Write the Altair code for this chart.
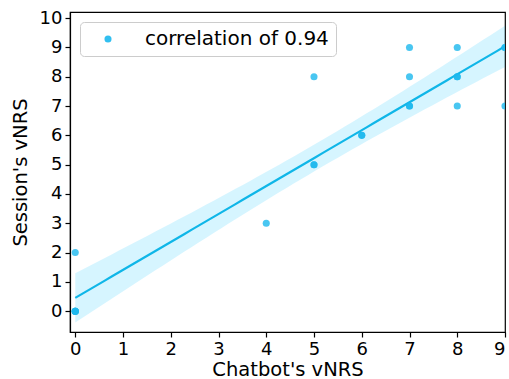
import altair as alt
import numpy as np
import pandas as pd

# Data (duplicates appear as darker dots)
chatbot = [0, 0, 0, 0, 0, 0, 4, 5, 5, 5, 6, 6, 7, 7, 7, 7, 8, 8, 8, 8, 9, 9, 9]
session = [0, 0, 0, 0, 0, 2, 3, 5, 5, 8, 6, 6, 7, 7, 8, 9, 7, 8, 8, 9, 7, 9, 9]
legend_label = "correlation of 0.94"
x_ticks = list(range(0, 10))
y_ticks = list(range(0, 11))

COLOR = "#1cb8ee"
FONT = "DejaVu Sans"

df = pd.DataFrame({"x": chatbot, "y": session, "label": legend_label})

# Linear fit and 95% confidence band computed from the data
x = np.array(chatbot, float)
y = np.array(session, float)
n = len(x)
mx, my = x.mean(), y.mean()
sxx = ((x - mx) ** 2).sum()
slope = ((x - mx) * (y - my)).sum() / sxx
inter = my - slope * mx
resid = y - (inter + slope * x)
s = np.sqrt((resid ** 2).sum() / (n - 2))
t = 2.080
grid = np.linspace(0, 9, 60)
fit = inter + slope * grid
half = t * s * np.sqrt(1.0 / n + (grid - mx) ** 2 / sxx)
band = pd.DataFrame({"x": grid, "fit": fit, "lo": fit - half, "hi": fit + half})

xscale = alt.Scale(domain=[-0.11, 9.0], nice=False, zero=False)
yscale = alt.Scale(domain=[-0.71, 10.21], nice=False, zero=False)


def xax():
    return alt.Axis(values=x_ticks, title="Chatbot's vNRS", grid=False, format="d",
                    labelOverlap=False, titleY=43, titleBaseline="alphabetic",
                    titleFontSize=19.5)


def yax():
    return alt.Axis(values=y_ticks, title="Session's vNRS", grid=False, format="d",
                    labelOverlap=False, titleX=-50, titleBaseline="middle",
                    titleFontSize=19.5)


area = alt.Chart(band).mark_area(color="#00bfff", opacity=0.16, clip=True).encode(
    x=alt.X("x:Q", scale=xscale, axis=xax()),
    y=alt.Y("lo:Q", scale=yscale, axis=yax()),
    y2="hi:Q",
)

line = alt.Chart(band).mark_line(color="#0fb6e8", strokeWidth=2.2, clip=True).encode(
    x=alt.X("x:Q", scale=xscale, axis=xax()),
    y=alt.Y("fit:Q", scale=yscale, axis=yax()),
)

points = alt.Chart(df).mark_circle(size=50, opacity=0.8, clip=True).encode(
    x=alt.X("x:Q", scale=xscale, axis=xax()),
    y=alt.Y("y:Q", scale=yscale, axis=yax()),
    color=alt.Color(
        "label:N",
        scale=alt.Scale(range=[COLOR]),
        legend=alt.Legend(
            title=None,
            orient="none",
            legendX=10,
            legendY=10,
            padding=7,
            symbolOffset=11,
            labelOffset=27,
            labelFontSize=20,
            labelFont=FONT,
            labelColor="black",
            symbolType="circle",
            symbolSize=50,
            symbolOpacity=0.9,
            strokeColor="#cccccc",
            fillColor="white",
            cornerRadius=4,
            labelLimit=400,
        ),
    ),
)

chart = (
    alt.layer(area, line, points)
    .properties(
        width=435,
        height=320,
        padding={"left": 70, "top": 12, "right": 4, "bottom": 47},
        autosize=alt.AutoSizeParams(type="none"),
        background="white",
    )
    .configure_view(stroke="black", strokeWidth=1.2)
    .configure_axis(
        domainColor="black",
        domainWidth=1.2,
        tickColor="black",
        tickWidth=1.2,
        tickSize=5,
        labelFontSize=18,
        labelFont=FONT,
        labelColor="black",
        labelPadding=3,
        titleFont=FONT,
        titleColor="black",
        titleFontWeight="normal",
    )
)

chart.save("out.html", embed_options={"renderer": "svg", "actions": False})
